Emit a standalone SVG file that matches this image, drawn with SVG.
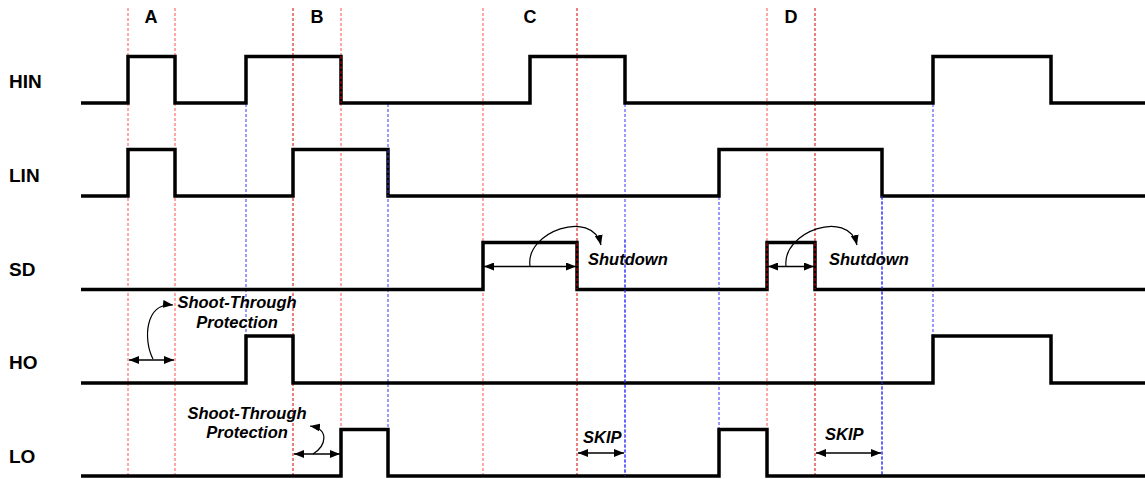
<svg xmlns="http://www.w3.org/2000/svg" width="1145" height="479" viewBox="0 0 1145 479">
<defs>
<marker id="ah" viewBox="0 0 10 8" refX="10" refY="4" markerWidth="10" markerHeight="8" markerUnits="userSpaceOnUse" orient="auto-start-reverse">
<path d="M0,0 L10,4 L0,8 z" fill="#000"/>
</marker>
<style>
.wave{fill:none;stroke:#000;stroke-width:3.5;stroke-linejoin:miter;stroke-linecap:butt}
.gl{fill:none;stroke:#FF5050;stroke-width:1;stroke-dasharray:3,2}
.gd{fill:none;stroke:#D40000;stroke-width:1;stroke-dasharray:3,2}
.gb{fill:none;stroke:#3535FF;stroke-width:1;stroke-dasharray:3,2}
.sig{font-family:"Liberation Sans",Arial,sans-serif;font-weight:bold;font-size:19px;fill:#000}
.sec{font-family:"Liberation Sans",Arial,sans-serif;font-weight:bold;font-size:18px;fill:#000;text-anchor:middle}
.ann{font-family:"Liberation Sans",Arial,sans-serif;font-weight:bold;font-style:italic;font-size:16.5px;fill:#000}
.arr{fill:none;stroke:#000;stroke-width:1.5;marker-start:url(#ah);marker-end:url(#ah)}
.crv{fill:none;stroke:#000;stroke-width:1.2;marker-end:url(#ah)}
</style>
</defs>
<rect width="1145" height="479" fill="#fff"/>

<g id="guides">
<line class="gl" x1="128" y1="8" x2="128" y2="476"/>
<line class="gl" x1="175" y1="8" x2="175" y2="476"/>
<line class="gb" x1="246" y1="104" x2="246" y2="336"/>
<line class="gd" x1="293" y1="8" x2="293" y2="476"/>
<line class="gl" x1="341" y1="8" x2="341" y2="476"/>
<line class="gb" x1="388" y1="104" x2="388" y2="430"/>
<line class="gl" x1="483" y1="8" x2="483" y2="476"/>
<line class="gd" x1="577" y1="8" x2="577" y2="476"/>
<line class="gb" x1="625" y1="104" x2="625" y2="476"/>
<line class="gb" x1="719" y1="197" x2="719" y2="430"/>
<line class="gl" x1="767" y1="8" x2="767" y2="476"/>
<line class="gd" x1="815" y1="8" x2="815" y2="476"/>
<line class="gb" x1="882" y1="197" x2="882" y2="476"/>
<line class="gb" x1="933" y1="104" x2="933" y2="336"/>
</g>

<g id="HIN">
<text class="sig" x="9" y="88">HIN</text>
<path class="wave" d="M81,103 H128 V56.5 H175 V103 H246 V56.5 H341 V103 H530 V56.5 H625 V103 H933 V56.5 H1051 V103 H1145"/>
</g>
<g id="LIN">
<text class="sig" x="9" y="182">LIN</text>
<path class="wave" d="M81,196 H128 V149.5 H175 V196 H293 V149.5 H388 V196 H719 V149.5 H882 V196 H1145"/>
</g>
<g id="SD">
<text class="sig" x="9" y="276">SD</text>
<path class="wave" d="M81,289.5 H483 V242.5 H577 V289.5 H767 V242.5 H815 V289.5 H1145"/>
</g>
<g id="HO">
<text class="sig" x="9" y="369">HO</text>
<path class="wave" d="M81,383 H246 V336 H293 V383 H933 V336 H1051 V383 H1145"/>
</g>
<g id="LO">
<text class="sig" x="9" y="463">LO</text>
<path class="wave" d="M81,476 H341 V429.5 H388 V476 H719 V429.5 H767 V476 H1145"/>
</g>

<g id="guide-overlays">
<line class="gd" x1="341" y1="56" x2="341" y2="103"/>
<line class="gb" x1="388" y1="150" x2="388" y2="196"/>
<line class="gb" x1="625" y1="240" x2="625" y2="476"/>
<line class="gd" x1="577" y1="243" x2="577" y2="289"/>
<line class="gd" x1="767" y1="243" x2="767" y2="289"/>
<line class="gd" x1="815" y1="243" x2="815" y2="289"/>
<line class="gb" x1="882" y1="196" x2="882" y2="476"/>
</g>

<g id="sections">
<text class="sec" x="151" y="23">A</text>
<text class="sec" x="317" y="23">B</text>
<text class="sec" x="530" y="23">C</text>
<text class="sec" x="791" y="23">D</text>
</g>

<g id="connectors">
<path class="arr" d="M129,360 H174"/>
<path class="crv" d="M153,359 C143,340 145,302 173,305"/>
<path class="arr" d="M294,454 H340"/>
<path class="crv" d="M313,454 C326,446 330,429 310,426"/>
<path class="arr" d="M484,266.5 H576"/>
<path class="crv" d="M530,266 C525,232 592,208 601,245"/>
<path class="arr" d="M768,266.5 H814"/>
<path class="crv" d="M786,266 C782,232 848,208 857,245"/>
<path class="arr" d="M578,453 H624"/>
<path class="arr" d="M816,453 H881"/>
</g>

<g id="annotations">
<text class="ann" x="237" y="308" text-anchor="middle">Shoot-Through</text>
<text class="ann" x="237" y="328" text-anchor="middle">Protection</text>
<text class="ann" x="247" y="419" text-anchor="middle">Shoot-Through</text>
<text class="ann" x="247" y="438" text-anchor="middle">Protection</text>
<text class="ann" x="588" y="265">Shutdown</text>
<text class="ann" x="829" y="265">Shutdown</text>
<text class="ann" x="583" y="443">SKIP</text>
<text class="ann" x="825" y="440">SKIP</text>
</g>
</svg>
